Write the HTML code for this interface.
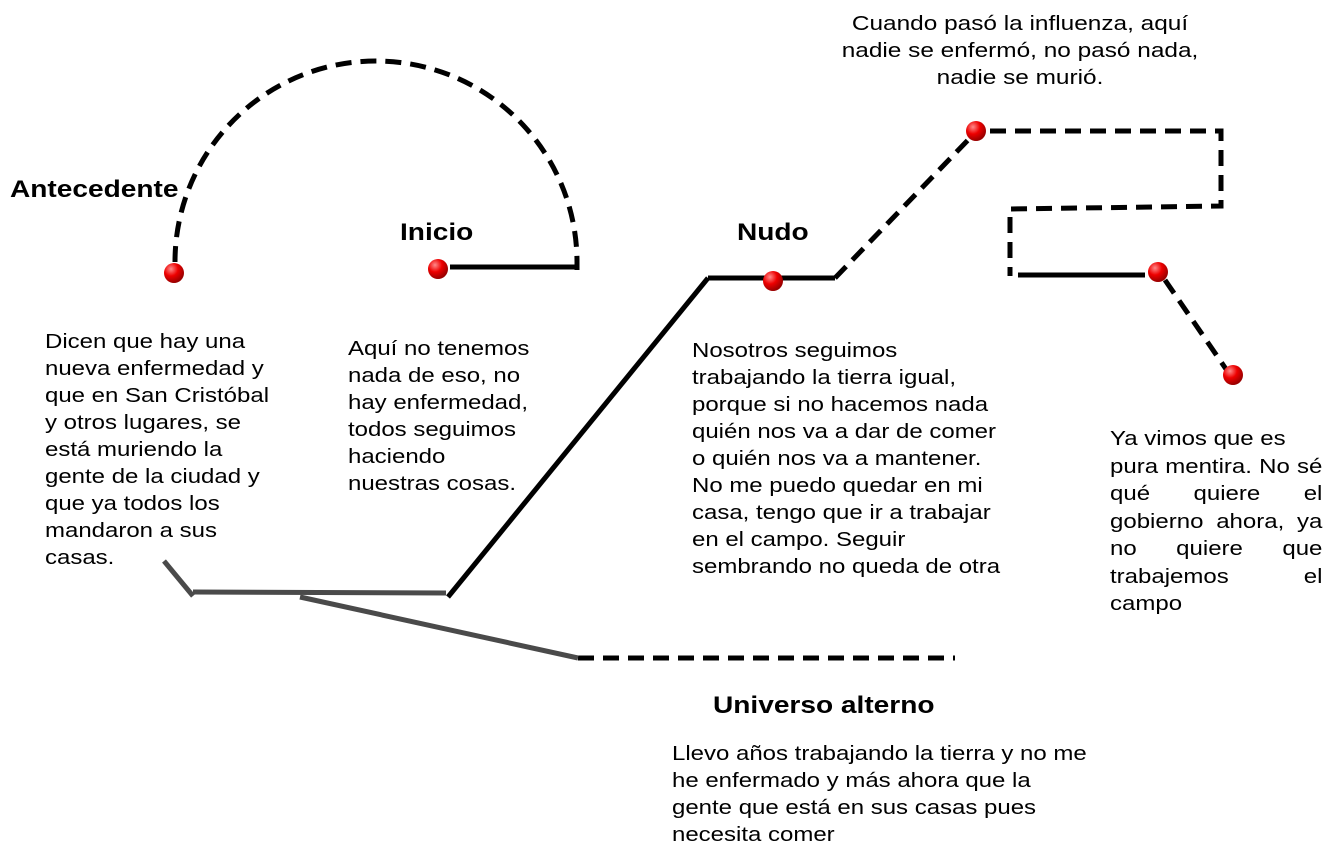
<!DOCTYPE html>
<html><head><meta charset="utf-8"><style>
body{margin:0;background:#fff}
svg text{font-family:"Liberation Sans",Arial,sans-serif;fill:#000}
.t{font-size:20px}
.b{font-size:24px;font-weight:bold}
.j{position:absolute;left:1110px;top:426px;width:177px;font:20px/27.5px "Liberation Sans",Arial,sans-serif;text-align:justify;text-align-last:left;transform:scaleX(1.2);transform-origin:0 0}
</style></head><body>
<div style="position:relative;width:1340px;height:851px;overflow:hidden">
<svg width="1340" height="851" style="position:absolute;left:0;top:0">
<defs><radialGradient id="g" cx="35%" cy="30%" r="70%"><stop offset="0" stop-color="#ff8a8a"/><stop offset="0.5" stop-color="#e00"/><stop offset="1" stop-color="#900"/></radialGradient></defs>
<g fill="none" stroke="#000" stroke-width="5">
<path d="M175 262 A201 201 0 0 1 577 262 L577 270" stroke-dasharray="16 9"/>
<line x1="450" y1="267" x2="579" y2="267"/>
<line x1="708" y1="278" x2="835" y2="278"/>
<line x1="448" y1="597" x2="708" y2="278"/>
<line x1="835" y1="278" x2="968" y2="140" stroke-dasharray="16 9"/>
<path d="M990 131 L1221 131 L1221 206 L1010 209 L1010 276" stroke-dasharray="16 9"/>
<line x1="1018" y1="275" x2="1145" y2="275"/>
<line x1="1165" y1="280" x2="1228" y2="372" stroke-dasharray="16 9"/>
<line x1="578" y1="658" x2="955" y2="658" stroke-dasharray="16 9"/>
</g>
<g fill="none" stroke="#4a4a4a" stroke-width="5">
<polyline points="164,561 193,596"/>
<line x1="193" y1="592" x2="446" y2="593"/>
<line x1="300" y1="597" x2="578" y2="658"/>
</g>
<g fill="url(#g)">
<circle cx="174" cy="273" r="10"/><circle cx="438" cy="269" r="10"/><circle cx="773" cy="281" r="10"/>
<circle cx="976" cy="131" r="10"/><circle cx="1158" cy="272" r="10"/><circle cx="1233" cy="375" r="10"/>
</g>
<g transform="translate(10,0) scale(1.17,1)"><text class="b" x="0" y="197">Antecedente</text></g>
<g transform="translate(400,0) scale(1.17,1)"><text class="b" x="0" y="240">Inicio</text></g>
<g transform="translate(737,0) scale(1.17,1)"><text class="b" x="0" y="240">Nudo</text></g>
<g transform="translate(713,0) scale(1.17,1)"><text class="b" x="0" y="713">Universo alterno</text></g>
<g class="t" text-anchor="middle" transform="translate(1020,0) scale(1.22,1)"><text x="0" y="30">Cuando pasó la influenza, aquí</text><text x="0" y="57">nadie se enfermó, no pasó nada,</text><text x="0" y="84">nadie se murió.</text></g>
<g class="t" transform="translate(45,0) scale(1.2,1)"><text x="0" y="348">Dicen que hay una</text><text x="0" y="375">nueva enfermedad y</text><text x="0" y="402">que en San Cristóbal</text><text x="0" y="429">y otros lugares, se</text><text x="0" y="456">está muriendo la</text><text x="0" y="483">gente de la ciudad y</text><text x="0" y="510">que ya todos los</text><text x="0" y="537">mandaron a sus</text><text x="0" y="564">casas.</text></g>
<g class="t" transform="translate(348,0) scale(1.2,1)"><text x="0" y="355">Aquí no tenemos</text><text x="0" y="382">nada de eso, no</text><text x="0" y="409">hay enfermedad,</text><text x="0" y="436">todos seguimos</text><text x="0" y="463">haciendo</text><text x="0" y="490">nuestras cosas.</text></g>
<g class="t" transform="translate(692,0) scale(1.2,1)"><text x="0" y="357">Nosotros seguimos</text><text x="0" y="384">trabajando la tierra igual,</text><text x="0" y="411">porque si no hacemos nada</text><text x="0" y="438">quién nos va a dar de comer</text><text x="0" y="465">o quién nos va a mantener.</text><text x="0" y="492">No me puedo quedar en mi</text><text x="0" y="519">casa, tengo que ir a trabajar</text><text x="0" y="546">en el campo. Seguir</text><text x="0" y="573">sembrando no queda de otra</text></g>
<g class="t" transform="translate(672,0) scale(1.2,1)"><text x="0" y="760">Llevo años trabajando la tierra y no me</text><text x="0" y="787">he enfermado y más ahora que la</text><text x="0" y="814">gente que está en sus casas pues</text><text x="0" y="841">necesita comer</text></g>
</svg>
<div class="j">Ya vimos que es<br>pura mentira. No sé qué quiere el gobierno ahora, ya no quiere que trabajemos el campo</div>
</div>
</body></html>
